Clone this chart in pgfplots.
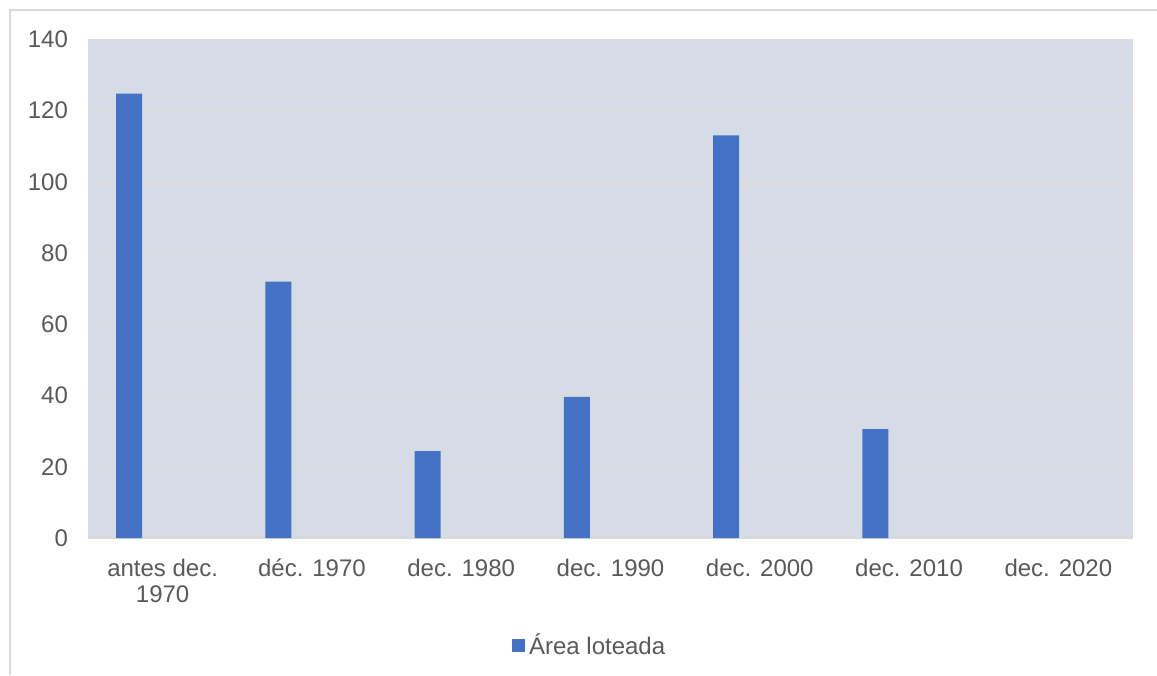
\documentclass[border=0pt]{standalone}
\usepackage{pgfplots}
\pgfplotsset{compat=1.18}
\usepackage{fontspec}
\setmainfont{Liberation Sans}
\definecolor{barblue}{HTML}{4472C4}
\definecolor{plotbg}{HTML}{D6DCE5}
\definecolor{gridc}{HTML}{DDDBD9}
\definecolor{txt}{HTML}{595959}
\definecolor{framec}{HTML}{D9D9D9}
\begin{document}
\begin{tikzpicture}
\path[use as bounding box] (0,0) rectangle (578.5pt,337.5pt);
\draw[framec, line width=1pt] (4.75pt,0pt) -- (4.75pt,332.25pt) -- (578.5pt,332.25pt);
\begin{axis}[
  at={(44pt,68.5pt)}, anchor=south west,
  scale only axis,
  width=522.5pt, height=249.25pt,
  xmin=-0.5, xmax=6.5,
  ymin=0, ymax=140,
  ytick={0,20,...,140},
  xtick={0,...,6},
  xticklabels={{\strut antes dec.\\1970},{\strut déc. 1970},{\strut dec. 1980},{\strut dec. 1990},{\strut dec. 2000},{\strut dec. 2010},{\strut dec. 2020}},
  x tick label style={align=center, anchor=north, text=txt, font=\fontsize{12pt}{13pt}\selectfont, yshift=-6.5pt},
  y tick label style={text=txt, font=\fontsize{12pt}{13pt}\selectfont, xshift=-6.5pt},
  /pgf/number format/assume math mode=true,
  major tick length=0pt,
  axis background/.style={fill=plotbg},
  axis line style={draw=none},
  axis x line*=bottom,
  axis y line*=left,
  ymajorgrids,
  grid style={gridc, line width=0.6pt},
  legend style={at={(0.481,-0.215)}, anchor=center, draw=none, fill=none,
    font=\fontsize{12pt}{13pt}\selectfont, text=txt,
    legend image code/.code={\fill[barblue] (0pt,-3.2pt) rectangle (6.5pt,3.3pt);}},
  legend cell align=left,
]
\draw[framec, line width=0.8pt] (axis cs:-0.5,0) -- (axis cs:6.5,0);
\addplot[ybar, bar width=13pt, bar shift=-16.8pt, fill=barblue, draw=none]
  coordinates {(0,124.8) (1,72.0) (2,24.4) (3,39.6) (4,113.1) (5,30.6)};
\addlegendentry{Área loteada}
\end{axis}
\end{tikzpicture}
\end{document}
